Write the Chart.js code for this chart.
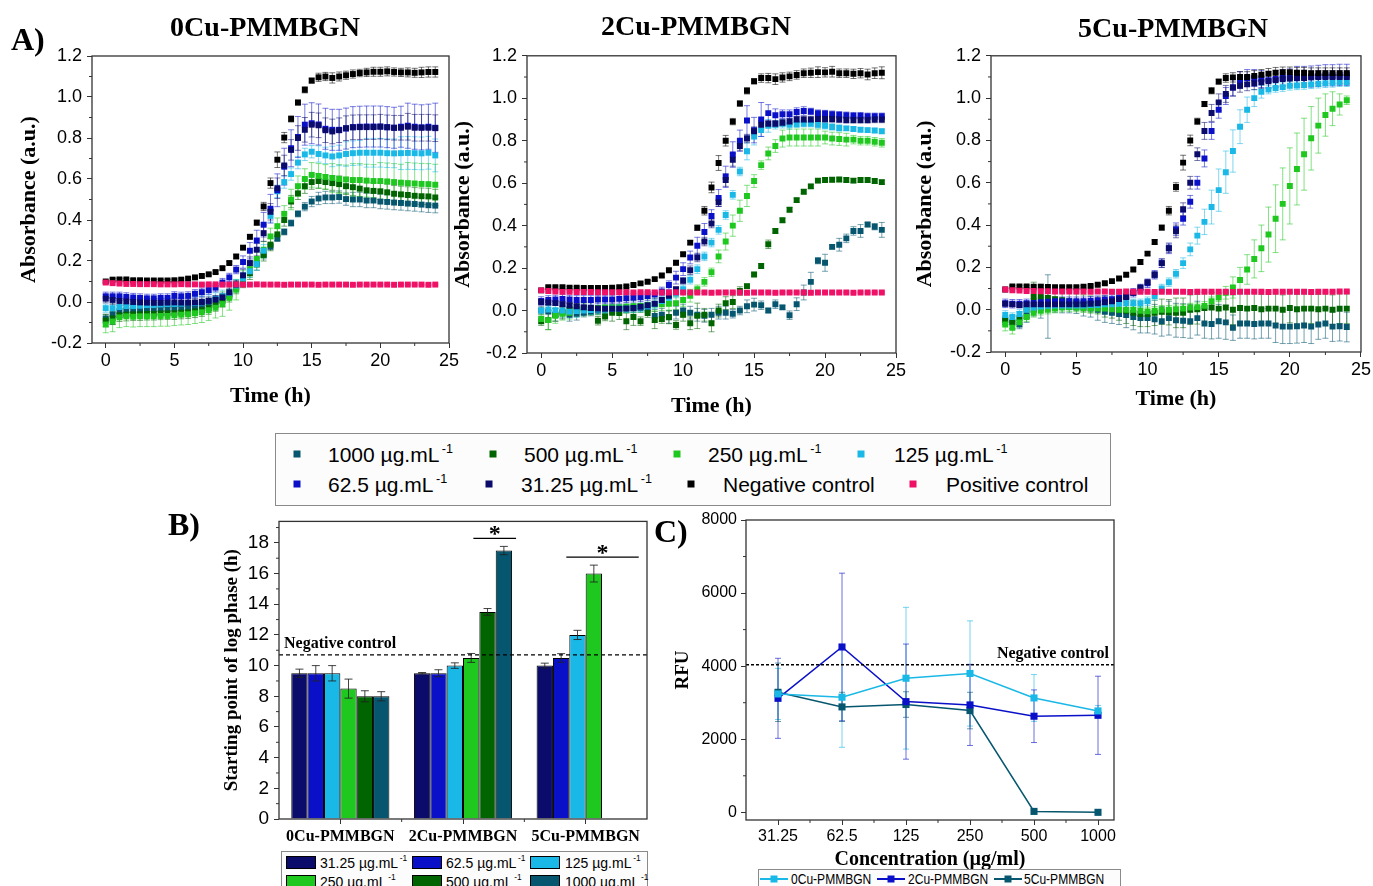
<!DOCTYPE html>
<html>
<head>
<meta charset="utf-8">
<script src="https://cdn.jsdelivr.net/npm/chart.js@4.4.1/dist/chart.umd.min.js"></script>
<style>
  body { margin: 0; background: #fff; width: 1373px; height: 886px; overflow: hidden; position: relative;
         font-family: 'Liberation Sans', Arial, sans-serif; }
  canvas { position: absolute; }
  .lbl { position: absolute; font-family: 'Liberation Serif', 'Times New Roman', serif; font-weight: bold;
         line-height: 1; white-space: nowrap; color: #000; }
  .box { position: absolute; border: 1px solid #8a8a8a; background: #fcfcfc; }
  .item { position: absolute; white-space: nowrap; transform: translateY(-50%); line-height: 1; color: #000; }
  .item sup { font-size: 0.6em; vertical-align: 0.75em; }
  .mk { position: absolute; transform: translate(-50%, -50%); }
</style>
</head>
<body>
<script>
// ---- time axis of panel A (h) ----
const hours = [0,0.5,1,1.5,2,2.5,3,3.5,4,4.5,5,5.5,6,6.5,7,7.5,8,8.5,9,9.5,10,10.5,11,11.5,12,12.5,
  13,13.5,14,14.5,15,15.5,16,16.5,17,17.5,18,18.5,19,19.5,20,20.5,21,21.5,22,22.5,23,23.5,24];

// ---- A) 0Cu-PMMBGN absorbance ----
const cu0_1000 = [-0.080,-0.060,-0.045,-0.040,-0.040,-0.040,-0.038,-0.035,-0.035,-0.035,
  -0.032,-0.030,-0.028,-0.022,-0.015,-0.005,0.010,0.020,0.040,0.075,
  0.105,0.150,0.190,0.230,0.270,0.310,0.342,0.385,0.430,0.465,
  0.490,0.505,0.510,0.510,0.512,0.502,0.500,0.500,0.495,0.495,
  0.490,0.488,0.485,0.483,0.480,0.478,0.475,0.472,0.470];
const cu0_1000_sd = [0.02,0.05,0.03,0.025,0.025,0.025,0.025,0.025,0.025,0.025,
  0.025,0.025,0.025,0.025,0.025,0.025,0.02,0.02,0.02,0.02,
  0.02,0.02,0.02,0.02,0.015,0.015,0.015,0.015,0.015,0.02,
  0.025,0.03,0.03,0.03,0.03,0.03,0.035,0.035,0.035,0.035,
  0.035,0.035,0.035,0.035,0.035,0.035,0.035,0.035,0.035];
const cu0_500 = [-0.090,-0.080,-0.065,-0.062,-0.060,-0.060,-0.058,-0.058,-0.056,-0.055,
  -0.055,-0.052,-0.050,-0.046,-0.040,-0.030,-0.015,0.005,0.030,0.070,
  0.100,0.140,0.185,0.230,0.280,0.330,0.400,0.490,0.530,0.565,
  0.585,0.590,0.585,0.580,0.575,0.565,0.560,0.553,0.545,0.542,
  0.540,0.535,0.528,0.525,0.522,0.518,0.516,0.515,0.510];
const cu0_500_sd = [0.03,0.03,0.03,0.03,0.03,0.03,0.03,0.03,0.03,0.03,
  0.03,0.03,0.03,0.03,0.03,0.03,0.03,0.03,0.03,0.03,
  0.03,0.03,0.03,0.03,0.03,0.03,0.03,0.03,0.03,0.035,
  0.035,0.035,0.035,0.035,0.04,0.04,0.04,0.04,0.04,0.04,
  0.04,0.04,0.04,0.04,0.04,0.04,0.04,0.04,0.04];
const cu0_250 = [-0.110,-0.095,-0.075,-0.070,-0.072,-0.070,-0.070,-0.070,-0.068,-0.068,
  -0.065,-0.062,-0.060,-0.055,-0.050,-0.040,-0.028,-0.010,0.020,0.060,
  0.115,0.160,0.210,0.255,0.320,0.370,0.430,0.500,0.565,0.600,
  0.620,0.615,0.610,0.605,0.600,0.598,0.595,0.595,0.592,0.590,
  0.590,0.588,0.585,0.582,0.580,0.578,0.576,0.575,0.572];
const cu0_250_sd = [0.04,0.05,0.05,0.05,0.05,0.05,0.05,0.05,0.05,0.05,
  0.05,0.05,0.05,0.05,0.05,0.05,0.05,0.06,0.06,0.05,
  0.04,0.04,0.04,0.04,0.04,0.04,0.04,0.05,0.05,0.05,
  0.06,0.06,0.06,0.07,0.07,0.07,0.08,0.08,0.08,0.08,
  0.09,0.09,0.09,0.09,0.10,0.10,0.10,0.10,0.10];
const cu0_125 = [-0.030,-0.030,-0.025,-0.020,-0.020,-0.018,-0.015,-0.015,-0.012,-0.010,
  -0.010,-0.008,-0.005,-0.005,-0.002,0.005,0.015,0.028,0.045,0.080,
  0.115,0.150,0.185,0.250,0.420,0.540,0.585,0.624,0.680,0.720,
  0.733,0.722,0.715,0.710,0.715,0.722,0.726,0.728,0.728,0.728,
  0.728,0.726,0.725,0.726,0.727,0.726,0.725,0.728,0.715];
const cu0_125_sd = [0.02,0.05,0.03,0.03,0.03,0.03,0.03,0.03,0.03,0.03,
  0.03,0.03,0.03,0.03,0.03,0.03,0.03,0.03,0.03,0.03,
  0.03,0.03,0.03,0.03,0.03,0.03,0.03,0.03,0.03,0.03,
  0.03,0.04,0.04,0.05,0.05,0.06,0.06,0.06,0.07,0.07,
  0.07,0.07,0.07,0.08,0.08,0.08,0.08,0.08,0.08];
const cu0_62 = [0.028,0.028,0.028,0.025,0.022,0.020,0.018,0.018,0.020,0.020,
  0.030,0.028,0.030,0.040,0.048,0.058,0.070,0.095,0.120,0.158,
  0.195,0.250,0.300,0.377,0.455,0.545,0.660,0.750,0.805,0.865,
  0.872,0.866,0.845,0.840,0.840,0.846,0.853,0.855,0.856,0.856,
  0.856,0.853,0.850,0.855,0.860,0.855,0.852,0.855,0.850];
const cu0_62_sd = [0.02,0.02,0.02,0.02,0.02,0.02,0.02,0.02,0.02,0.02,
  0.02,0.02,0.02,0.02,0.02,0.02,0.02,0.02,0.02,0.02,
  0.03,0.04,0.05,0.06,0.07,0.08,0.09,0.09,0.10,0.10,
  0.10,0.10,0.10,0.10,0.10,0.10,0.10,0.10,0.10,0.10,
  0.10,0.10,0.10,0.10,0.11,0.11,0.11,0.11,0.12];
const cu0_31 = [0.016,0.010,0.005,0.003,0.000,-0.002,-0.003,-0.004,-0.004,-0.003,
  -0.002,-0.003,-0.004,-0.002,0.000,0.005,0.012,0.023,0.047,0.085,
  0.130,0.190,0.255,0.336,0.440,0.555,0.666,0.742,0.800,0.840,
  0.865,0.862,0.838,0.832,0.838,0.848,0.852,0.853,0.853,0.853,
  0.855,0.852,0.850,0.850,0.855,0.850,0.850,0.850,0.848];
const cu0_31_sd = [0.02,0.02,0.02,0.02,0.02,0.02,0.02,0.02,0.02,0.02,
  0.02,0.02,0.02,0.02,0.02,0.02,0.02,0.02,0.02,0.02,
  0.03,0.03,0.03,0.04,0.04,0.05,0.05,0.05,0.06,0.06,
  0.06,0.06,0.06,0.06,0.06,0.06,0.06,0.06,0.06,0.06,
  0.06,0.06,0.06,0.06,0.065,0.065,0.065,0.065,0.065];
const cu0_neg = [0.100,0.109,0.110,0.110,0.106,0.106,0.105,0.105,0.105,0.105,
  0.106,0.109,0.114,0.120,0.127,0.135,0.146,0.165,0.190,0.222,
  0.265,0.318,0.387,0.466,0.580,0.694,0.802,0.893,0.973,1.035,
  1.080,1.096,1.100,1.093,1.100,1.106,1.112,1.117,1.120,1.123,
  1.123,1.125,1.122,1.120,1.120,1.118,1.120,1.122,1.122];
const cu0_neg_sd = [0.005,0.005,0.005,0.005,0.005,0.005,0.005,0.005,0.005,0.005,
  0.005,0.005,0.005,0.005,0.006,0.006,0.007,0.008,0.008,0.010,
  0.008,0.010,0.012,0.020,0.025,0.038,0.025,0.015,0.012,0.015,
  0.012,0.020,0.020,0.025,0.022,0.020,0.020,0.018,0.020,0.022,
  0.022,0.022,0.020,0.020,0.022,0.022,0.025,0.025,0.025];
const cu0_pos = [0.095,0.092,0.090,0.088,0.088,0.087,0.087,0.087,0.086,0.086,
  0.086,0.087,0.086,0.086,0.085,0.086,0.086,0.085,0.085,0.086,
  0.085,0.085,0.086,0.085,0.085,0.085,0.084,0.085,0.085,0.085,
  0.085,0.084,0.085,0.085,0.085,0.085,0.084,0.085,0.085,0.085,
  0.085,0.085,0.084,0.085,0.085,0.085,0.085,0.084,0.085];
const cu0_pos_sd = [0.004,0.004,0.003,0.003,0.003,0.003,0.003,0.003,0.003,0.003,
  0.003,0.003,0.003,0.003,0.003,0.003,0.003,0.003,0.003,0.003,
  0.003,0.003,0.003,0.003,0.003,0.003,0.003,0.003,0.003,0.003,
  0.003,0.003,0.003,0.003,0.003,0.003,0.003,0.003,0.003,0.003,
  0.003,0.003,0.003,0.003,0.003,0.003,0.003,0.003,0.003];

// ---- A) 2Cu-PMMBGN absorbance ----
const cu2_1000 = [0.000,-0.005,-0.020,-0.010,-0.020,-0.015,-0.010,-0.005,0.000,0.005,
  0.005,0.008,0.010,0.010,0.012,0.010,-0.025,-0.020,-0.030,-0.010,
  0.000,-0.010,-0.020,-0.025,-0.020,-0.010,-0.010,-0.015,0.000,0.020,
  0.028,0.025,0.000,0.030,0.015,-0.022,0.030,0.085,0.135,0.235,
  0.225,0.300,0.310,0.340,0.375,0.375,0.405,0.395,0.380];
const cu2_1000_sd = [0.02,0.03,0.03,0.03,0.03,0.03,0.02,0.02,0.02,0.02,
  0.02,0.02,0.02,0.02,0.02,0.02,0.03,0.03,0.03,0.03,
  0.03,0.03,0.03,0.03,0.03,0.03,0.03,0.02,0.02,0.03,
  0.03,0.02,0.01,0.02,0.01,0.02,0.03,0.035,0.045,0.015,
  0.04,0.01,0.03,0.02,0.02,0.03,0.01,0.015,0.035];
const cu2_500 = [-0.050,-0.045,-0.020,-0.005,0.005,0.010,0.012,0.010,-0.048,-0.028,
  -0.010,-0.012,-0.050,-0.030,-0.050,-0.012,-0.045,-0.040,-0.032,-0.068,
  -0.020,-0.060,-0.025,-0.020,-0.060,0.000,0.035,0.040,0.092,0.115,
  0.170,0.210,0.312,0.375,0.425,0.475,0.520,0.560,0.585,0.612,
  0.615,0.616,0.617,0.615,0.612,0.615,0.615,0.610,0.605];
const cu2_500_sd = [0.02,0.045,0.03,0.03,0.03,0.03,0.03,0.03,0.02,0.02,
  0.04,0.03,0.04,0.04,0.02,0.02,0.04,0.02,0.03,0.02,
  0.03,0.03,0.06,0.03,0.04,0.03,0.03,0.03,0.02,0.01,
  0.01,0.01,0.02,0.01,0.01,0.01,0.01,0.01,0.01,0.01,
  0.01,0.01,0.01,0.01,0.01,0.01,0.01,0.01,0.01];
const cu2_250 = [-0.040,-0.045,-0.025,-0.015,-0.010,0.000,0.005,0.010,0.012,0.015,
  0.015,0.015,0.018,0.020,0.022,0.025,0.028,0.030,0.032,0.035,
  0.050,0.070,0.100,0.135,0.180,0.255,0.325,0.400,0.470,0.540,
  0.610,0.685,0.740,0.775,0.810,0.815,0.815,0.815,0.815,0.815,
  0.815,0.810,0.808,0.805,0.805,0.800,0.800,0.795,0.790];
const cu2_250_sd = [0.02,0.045,0.035,0.03,0.03,0.03,0.03,0.03,0.03,0.03,
  0.03,0.03,0.03,0.03,0.03,0.03,0.03,0.03,0.03,0.03,
  0.03,0.03,0.02,0.02,0.02,0.03,0.04,0.05,0.05,0.05,
  0.03,0.02,0.03,0.03,0.04,0.04,0.04,0.04,0.04,0.04,
  0.03,0.03,0.03,0.03,0.02,0.02,0.02,0.02,0.02];
const cu2_125 = [0.000,0.005,0.002,0.000,-0.005,-0.002,0.000,0.002,0.005,0.005,
  0.008,0.008,0.010,0.012,0.015,0.020,0.030,0.045,0.060,0.080,
  0.100,0.145,0.195,0.255,0.320,0.380,0.450,0.545,0.655,0.750,
  0.820,0.850,0.870,0.875,0.880,0.875,0.878,0.880,0.880,0.875,
  0.870,0.865,0.860,0.858,0.855,0.852,0.850,0.848,0.845];
const cu2_125_sd = [0.01,0.02,0.03,0.03,0.03,0.03,0.02,0.02,0.02,0.02,
  0.02,0.02,0.02,0.02,0.02,0.02,0.02,0.02,0.02,0.02,
  0.02,0.02,0.02,0.02,0.02,0.02,0.02,0.02,0.02,0.04,
  0.04,0.03,0.03,0.02,0.02,0.02,0.015,0.015,0.015,0.015,
  0.015,0.015,0.015,0.01,0.01,0.01,0.01,0.01,0.01];
const cu2_62 = [0.045,0.050,0.052,0.055,0.052,0.050,0.050,0.050,0.052,0.052,
  0.052,0.055,0.058,0.060,0.062,0.068,0.075,0.090,0.120,0.155,
  0.195,0.250,0.305,0.370,0.445,0.530,0.630,0.735,0.800,0.895,
  0.850,0.900,0.930,0.920,0.925,0.925,0.935,0.940,0.938,0.930,
  0.928,0.925,0.922,0.920,0.918,0.918,0.915,0.915,0.915];
const cu2_62_sd = [0.02,0.02,0.02,0.02,0.02,0.02,0.02,0.02,0.02,0.02,
  0.02,0.02,0.02,0.02,0.02,0.02,0.02,0.02,0.02,0.03,
  0.03,0.03,0.04,0.04,0.03,0.04,0.05,0.06,0.05,0.07,
  0.06,0.08,0.04,0.03,0.02,0.02,0.02,0.02,0.015,0.015,
  0.015,0.015,0.015,0.015,0.015,0.015,0.015,0.015,0.015];
const cu2_31 = [0.040,0.038,0.035,0.030,0.025,0.020,0.015,0.012,0.010,0.008,
  0.008,0.008,0.010,0.012,0.018,0.025,0.032,0.050,0.070,0.100,
  0.140,0.190,0.250,0.325,0.410,0.510,0.615,0.710,0.775,0.810,
  0.845,0.875,0.880,0.880,0.885,0.890,0.900,0.900,0.900,0.902,
  0.902,0.902,0.900,0.898,0.898,0.898,0.898,0.900,0.900];
const cu2_31_sd = [0.01,0.01,0.01,0.01,0.01,0.01,0.01,0.01,0.01,0.01,
  0.01,0.01,0.01,0.01,0.01,0.01,0.01,0.01,0.01,0.01,
  0.015,0.02,0.02,0.02,0.02,0.02,0.03,0.03,0.02,0.02,
  0.02,0.02,0.015,0.015,0.015,0.015,0.015,0.015,0.015,0.015,
  0.015,0.015,0.015,0.015,0.015,0.015,0.015,0.015,0.015];
const cu2_neg = [0.095,0.110,0.110,0.110,0.108,0.107,0.106,0.106,0.106,0.106,
  0.107,0.110,0.113,0.120,0.128,0.136,0.148,0.165,0.190,0.225,
  0.265,0.320,0.390,0.470,0.580,0.695,0.800,0.890,0.975,1.035,
  1.080,1.095,1.095,1.090,1.098,1.103,1.110,1.118,1.120,1.123,
  1.122,1.125,1.118,1.118,1.115,1.118,1.112,1.118,1.120];
const cu2_neg_sd = [0.005,0.005,0.005,0.005,0.005,0.005,0.005,0.005,0.005,0.005,
  0.005,0.005,0.005,0.005,0.006,0.006,0.007,0.008,0.008,0.010,
  0.008,0.010,0.012,0.020,0.025,0.035,0.025,0.015,0.012,0.015,
  0.012,0.020,0.022,0.025,0.022,0.020,0.020,0.020,0.022,0.025,
  0.022,0.025,0.020,0.020,0.022,0.022,0.025,0.025,0.028];
const cu2_pos = [0.095,0.092,0.090,0.088,0.088,0.087,0.087,0.087,0.086,0.086,
  0.086,0.086,0.086,0.085,0.086,0.086,0.085,0.085,0.085,0.086,
  0.085,0.085,0.085,0.085,0.084,0.085,0.085,0.085,0.085,0.084,
  0.085,0.085,0.085,0.084,0.085,0.085,0.085,0.085,0.084,0.085,
  0.085,0.085,0.085,0.085,0.084,0.085,0.085,0.085,0.085];
const cu2_pos_sd = [0.004,0.004,0.003,0.003,0.003,0.003,0.003,0.003,0.003,0.003,
  0.003,0.003,0.003,0.003,0.003,0.003,0.003,0.003,0.003,0.003,
  0.003,0.003,0.003,0.003,0.003,0.003,0.003,0.003,0.003,0.003,
  0.003,0.003,0.003,0.003,0.003,0.003,0.003,0.003,0.003,0.003,
  0.003,0.003,0.003,0.003,0.003,0.003,0.003,0.003,0.003];

// ---- A) 5Cu-PMMBGN absorbance ----
const cu5_1000 = [-0.050,-0.060,-0.070,-0.030,0.000,0.010,0.015,0.018,0.015,0.015,
  0.012,0.010,0.005,0.000,-0.010,-0.015,-0.020,-0.025,-0.035,-0.040,
  -0.040,-0.045,-0.055,-0.040,-0.050,-0.052,-0.055,-0.040,-0.065,-0.068,
  -0.055,-0.060,-0.085,-0.065,-0.065,-0.068,-0.065,-0.065,-0.075,-0.080,
  -0.080,-0.078,-0.075,-0.080,-0.070,-0.065,-0.080,-0.078,-0.082];
const cu5_1000_sd = [0.02,0.03,0.02,0.03,0.03,0.05,0.15,0.03,0.03,0.03,
  0.03,0.04,0.04,0.05,0.05,0.05,0.05,0.06,0.06,0.07,
  0.07,0.07,0.07,0.08,0.08,0.08,0.08,0.08,0.07,0.07,
  0.08,0.08,0.06,0.07,0.07,0.07,0.07,0.07,0.08,0.08,
  0.08,0.08,0.08,0.08,0.07,0.07,0.07,0.07,0.07];
const cu5_500 = [-0.050,-0.060,-0.040,0.000,0.060,0.060,0.055,0.050,0.045,0.040,
  0.035,0.030,0.025,0.020,0.015,0.010,0.000,-0.005,-0.015,-0.020,
  -0.020,-0.015,-0.010,-0.012,-0.015,-0.015,0.000,0.002,0.008,0.010,
  0.005,0.010,0.000,0.008,0.005,0.008,0.002,0.005,0.005,0.000,
  0.008,0.002,0.005,0.005,0.002,0.005,0.000,0.005,0.005];
const cu5_500_sd = [0.02,0.03,0.03,0.04,0.07,0.06,0.06,0.05,0.04,0.04,
  0.04,0.04,0.04,0.04,0.05,0.05,0.05,0.06,0.06,0.06,
  0.06,0.06,0.06,0.06,0.07,0.07,0.07,0.07,0.07,0.07,
  0.07,0.07,0.07,0.07,0.07,0.07,0.07,0.07,0.07,0.07,
  0.07,0.07,0.07,0.07,0.07,0.07,0.07,0.07,0.07];
const cu5_250 = [-0.070,-0.085,-0.060,-0.035,-0.015,-0.005,0.000,0.005,0.010,0.012,
  0.010,0.008,0.005,0.005,0.005,0.002,0.000,0.000,0.000,-0.005,
  -0.008,-0.005,0.000,0.000,0.002,0.005,0.010,0.012,0.018,0.040,
  0.058,0.080,0.105,0.140,0.190,0.240,0.290,0.355,0.430,0.500,
  0.585,0.665,0.735,0.810,0.870,0.920,0.950,0.970,0.990];
const cu5_250_sd = [0.03,0.03,0.02,0.02,0.02,0.02,0.02,0.02,0.02,0.02,
  0.02,0.02,0.02,0.02,0.02,0.02,0.02,0.02,0.02,0.02,
  0.02,0.02,0.02,0.02,0.02,0.02,0.02,0.02,0.02,0.02,
  0.02,0.03,0.05,0.06,0.07,0.09,0.11,0.13,0.16,0.17,
  0.18,0.17,0.17,0.15,0.13,0.10,0.08,0.05,0.02];
const cu5_125 = [-0.025,-0.035,-0.020,0.000,0.010,0.015,0.018,0.020,0.020,0.020,
  0.020,0.020,0.022,0.022,0.025,0.025,0.028,0.030,0.030,0.030,
  0.040,0.065,0.100,0.130,0.170,0.220,0.285,0.350,0.415,0.485,
  0.565,0.650,0.750,0.865,0.945,1.000,1.030,1.040,1.048,1.052,
  1.058,1.060,1.062,1.065,1.068,1.070,1.072,1.075,1.075];
const cu5_125_sd = [0.02,0.02,0.02,0.02,0.02,0.02,0.02,0.02,0.02,0.02,
  0.02,0.02,0.02,0.02,0.02,0.02,0.02,0.02,0.02,0.02,
  0.02,0.02,0.02,0.02,0.02,0.025,0.03,0.04,0.06,0.08,
  0.10,0.10,0.10,0.08,0.06,0.04,0.03,0.02,0.02,0.02,
  0.02,0.02,0.02,0.02,0.02,0.02,0.02,0.02,0.02];
const cu5_62 = [0.030,0.028,0.028,0.030,0.032,0.035,0.038,0.040,0.040,0.040,
  0.040,0.040,0.042,0.045,0.048,0.050,0.058,0.065,0.080,0.100,
  0.125,0.165,0.220,0.290,0.380,0.430,0.510,0.600,0.715,0.845,
  0.945,1.010,1.050,1.085,1.095,1.095,1.090,1.085,1.090,1.095,
  1.098,1.100,1.100,1.102,1.105,1.108,1.108,1.110,1.110];
const cu5_62_sd = [0.02,0.02,0.02,0.02,0.02,0.02,0.02,0.02,0.02,0.02,
  0.02,0.02,0.02,0.02,0.02,0.02,0.02,0.02,0.02,0.02,
  0.02,0.02,0.02,0.025,0.03,0.03,0.03,0.03,0.04,0.04,
  0.04,0.04,0.04,0.04,0.04,0.04,0.04,0.04,0.04,0.04,
  0.04,0.05,0.05,0.05,0.05,0.05,0.05,0.05,0.05];
const cu5_31 = [0.028,0.025,0.022,0.025,0.025,0.025,0.025,0.025,0.025,0.025,
  0.025,0.025,0.028,0.030,0.035,0.040,0.050,0.060,0.080,0.105,
  0.130,0.165,0.220,0.290,0.370,0.475,0.600,0.735,0.845,0.930,
  0.980,1.020,1.050,1.058,1.065,1.070,1.075,1.080,1.085,1.090,
  1.092,1.095,1.095,1.098,1.100,1.100,1.100,1.100,1.100];
const cu5_31_sd = [0.01,0.01,0.01,0.01,0.01,0.01,0.01,0.01,0.01,0.01,
  0.01,0.01,0.01,0.01,0.01,0.01,0.01,0.01,0.01,0.01,
  0.01,0.015,0.02,0.02,0.03,0.03,0.03,0.03,0.04,0.04,
  0.04,0.04,0.04,0.03,0.03,0.03,0.03,0.03,0.03,0.03,
  0.03,0.03,0.03,0.03,0.03,0.03,0.03,0.03,0.03];
const cu5_neg = [0.095,0.110,0.110,0.110,0.108,0.108,0.107,0.106,0.106,0.106,
  0.106,0.108,0.112,0.118,0.125,0.135,0.147,0.165,0.190,0.225,
  0.265,0.320,0.388,0.468,0.580,0.695,0.800,0.890,0.972,1.035,
  1.078,1.095,1.098,1.100,1.100,1.105,1.110,1.115,1.120,1.122,
  1.122,1.120,1.120,1.118,1.118,1.118,1.118,1.118,1.118];
const cu5_neg_sd = [0.005,0.005,0.005,0.005,0.005,0.005,0.005,0.005,0.005,0.005,
  0.005,0.005,0.005,0.005,0.006,0.006,0.007,0.008,0.008,0.010,
  0.008,0.010,0.012,0.020,0.020,0.035,0.025,0.015,0.012,0.015,
  0.012,0.020,0.022,0.025,0.025,0.025,0.025,0.025,0.025,0.025,
  0.025,0.025,0.025,0.025,0.025,0.025,0.025,0.025,0.025];
const cu5_pos = [0.095,0.092,0.090,0.088,0.088,0.087,0.087,0.086,0.086,0.086,
  0.086,0.086,0.085,0.086,0.086,0.085,0.085,0.086,0.085,0.085,
  0.085,0.084,0.085,0.085,0.085,0.085,0.084,0.085,0.085,0.085,
  0.085,0.085,0.084,0.085,0.085,0.085,0.085,0.084,0.085,0.085,
  0.085,0.085,0.085,0.084,0.085,0.085,0.085,0.086,0.086];
const cu5_pos_sd = [0.004,0.004,0.003,0.003,0.003,0.003,0.003,0.003,0.003,0.003,
  0.003,0.003,0.003,0.003,0.003,0.003,0.003,0.003,0.003,0.003,
  0.003,0.003,0.003,0.003,0.003,0.003,0.003,0.003,0.003,0.003,
  0.003,0.003,0.003,0.003,0.003,0.003,0.003,0.003,0.003,0.003,
  0.003,0.003,0.003,0.003,0.003,0.003,0.003,0.003,0.003];

const xTicksA = [0, 5, 10, 15, 20, 25];
const xMinorA = [2.5, 7.5, 12.5, 17.5, 22.5];
const yTicksA = [-0.2, 0, 0.2, 0.4, 0.6, 0.8, 1.0, 1.2];
const yMinorA = [-0.1, 0.1, 0.3, 0.5, 0.7, 0.9, 1.1];

// ---- B) starting point of log phase (h) ----
const groupsB = ['0Cu-PMMBGN', '2Cu-PMMBGN', '5Cu-PMMBGN'];
const lag31 = [9.5, 9.5, 10.0];     const lag31_sd = [0.27, 0.05, 0.16];
const lag62 = [9.5, 9.5, 10.5];     const lag62_sd = [0.5, 0.23, 0.28];
const lag125 = [9.5, 10.0, 12.0];   const lag125_sd = [0.5, 0.18, 0.3];
const lag250 = [8.5, 10.5, 16.0];   const lag250_sd = [0.62, 0.29, 0.55];
const lag500 = [8.0, 13.5, null];   const lag500_sd = [0.36, 0.22, null];
const lag1000 = [8.0, 17.5, null];  const lag1000_sd = [0.3, 0.27, null];
const negControlLag = 10.7;
const yTicksB = [0, 2, 4, 6, 8, 10, 12, 14, 16, 18];
const yMinorB = [1, 3, 5, 7, 9, 11, 13, 15, 17, 19];

// ---- C) RFU ----
const concC = ['31.25', '62.5', '125', '250', '500', '1000'];
const rfu0 = [3240, 3150, 3670, 3800, 3130, 2775];   const rfu0_sd = [700, 1370, 1940, 1440, 640, 150];
const rfu2 = [3120, 4525, 3030, 2940, 2630, 2655];   const rfu2_sd = [1095, 2020, 1575, 1110, 720, 1070];
const rfu5 = [3285, 2885, 2950, 2785, 25, 0];        const rfu5_sd = [800, 400, 350, 500, 20, 10];
const negControlRFU = 4040;
const yTicksC = [0, 2000, 4000, 6000, 8000];
const yMinorC = [1000, 3000, 5000, 7000];

// ---- styles ----
const colors = { c1000: '#06566f', c500: '#006400', c250: '#1ec81e', c125: '#1ab8e6',
                 c62: '#0a10c8', c31: '#0b0b6b', neg: '#000000', pos: '#ee1166' };
const names = { c1000: '1000 µg.mL', c500: '500 µg.mL', c250: '250 µg.mL', c125: '125 µg.mL',
                c62: '62.5 µg.mL', c31: '31.25 µg.mL', neg: 'Negative control', pos: 'Positive control' };
const drawOrder = { pos: 0, neg: 1, c31: 2, c62: 3, c125: 4, c250: 5, c500: 6, c1000: 7 };
const serif = "'Liberation Serif', 'Times New Roman', serif";
const sans = "'Liberation Sans', Arial, sans-serif";
const axisColor = '#333';

Chart.defaults.font.family = sans;
Chart.defaults.color = '#000';
Chart.defaults.animation = false;

// ---- plugins ----
function drawErrorBars(chart, o) {
  const ctx = chart.ctx, ys = chart.scales.y;
  chart.data.datasets.forEach((ds, i) => {
    if (!ds.sd) return;
    const meta = chart.getDatasetMeta(i);
    ctx.save();
    ctx.strokeStyle = o.color || ds.borderColor;
    ctx.globalAlpha = o.alpha;
    ctx.lineWidth = o.lineWidth;
    meta.data.forEach((el, j) => {
      const raw = ds.data[j];
      const v = raw !== null && typeof raw === 'object' ? raw.y : raw;
      const d = ds.sd[j];
      if (v == null || d == null || !isFinite(el.x)) return;
      const y1 = ys.getPixelForValue(v - d), y2 = ys.getPixelForValue(v + d);
      ctx.beginPath();
      ctx.moveTo(el.x, y1); ctx.lineTo(el.x, y2);
      ctx.moveTo(el.x - o.cap, y1); ctx.lineTo(el.x + o.cap, y1);
      ctx.moveTo(el.x - o.cap, y2); ctx.lineTo(el.x + o.cap, y2);
      ctx.stroke();
    });
    ctx.restore();
  });
}
const errorBarPlugin = {
  id: 'errorBars',
  beforeDatasetsDraw(chart, args, o) { if (o.cap != null && !o.onTop) drawErrorBars(chart, o); },
  afterDatasetsDraw(chart, args, o) { if (o.cap != null && o.onTop) drawErrorBars(chart, o); }
};

const framePlugin = {
  id: 'frame',
  afterDraw(chart, args, o) {
    const { ctx, chartArea: a, scales } = chart;
    ctx.save();
    ctx.strokeStyle = axisColor;
    ctx.lineWidth = 1.3;
    ctx.strokeRect(a.left, a.top, a.right - a.left, a.bottom - a.top);
    ctx.lineWidth = 1;
    (o.minorX || []).forEach(v => {
      const x = scales.x.getPixelForValue(v);
      ctx.beginPath(); ctx.moveTo(x, a.bottom); ctx.lineTo(x, a.bottom + 3); ctx.stroke();
    });
    (o.minorY || []).forEach(v => {
      if (v > scales.y.max) return;
      const y = scales.y.getPixelForValue(v);
      ctx.beginPath(); ctx.moveTo(a.left, y); ctx.lineTo(a.left - 3, y); ctx.stroke();
    });
    ctx.restore();
  }
};

const refLinePlugin = {
  id: 'refLine',
  afterDatasetsDraw(chart, args, o) {
    if (o.value == null) return;
    const { ctx, chartArea: a } = chart;
    const y = chart.scales.y.getPixelForValue(o.value);
    ctx.save();
    ctx.setLineDash(o.dash);
    ctx.lineWidth = 1.4;
    ctx.strokeStyle = '#000';
    ctx.beginPath(); ctx.moveTo(a.left, y); ctx.lineTo(a.right, y); ctx.stroke();
    ctx.setLineDash([]);
    ctx.font = 'bold 16px ' + serif;
    ctx.fillStyle = '#000';
    ctx.textAlign = o.align;
    ctx.fillText(o.text, o.align === 'left' ? a.left + 5 : a.right - 5, y - 7);
    ctx.restore();
  }
};

const bracketPlugin = {
  id: 'brackets',
  afterDatasetsDraw(chart, args, o) {
    if (!o.list) return;
    const { ctx } = chart;
    const xs = chart.scales.x, ys = chart.scales.y;
    const w = chart.getDatasetMeta(0).data[0].width;
    ctx.save();
    ctx.strokeStyle = '#000';
    ctx.lineWidth = 1.2;
    ctx.fillStyle = '#000';
    ctx.font = 'bold 24px ' + serif;
    ctx.textAlign = 'center';
    o.list.forEach(b => {
      const c = xs.getPixelForValue(b.group);
      const n = chart.data.datasets.length;
      const x1 = c + (b.first - n / 2) * w - 6 + (b.first === 2 ? 3 : 0);
      const x2 = c + (b.last + 1 - n / 2) * w + 4;
      let top = 0;
      chart.data.datasets.forEach(ds => {
        const v = ds.data[b.group];
        if (v != null) top = Math.max(top, v + ds.sd[b.group]);
      });
      const y = ys.getPixelForValue(top) - 8;
      ctx.beginPath(); ctx.moveTo(x1, y); ctx.lineTo(x2, y); ctx.stroke();
      ctx.fillText('*', (x1 + x2) / 2, y + 3);
    });
    ctx.restore();
  }
};

Chart.register(errorBarPlugin, framePlugin, refLinePlugin, bracketPlugin);

function makeCanvas(left, top, width, height) {
  const c = document.createElement('canvas');
  c.width = width; c.height = height;
  c.style.left = left + 'px'; c.style.top = top + 'px';
  c.style.width = width + 'px'; c.style.height = height + 'px';
  document.body.appendChild(c);
  return c;
}

function addLabel(text, left, top, size, extra) {
  const d = document.createElement('div');
  d.className = 'lbl';
  d.textContent = text;
  d.style.left = left + 'px'; d.style.top = top + 'px'; d.style.fontSize = size + 'px';
  Object.assign(d.style, extra || {});
  document.body.appendChild(d);
}

function tickGrid() {
  return { drawOnChartArea: false, drawTicks: true, tickLength: 5, color: axisColor, lineWidth: 1 };
}

// ---- panel A ----
function absChart(box, g, series) {
  const cv = makeCanvas(box.left, box.top, box.width, box.height);
  return new Chart(cv, {
    type: 'scatter',
    data: {
      datasets: series.map(s => ({
        label: names[s.key],
        data: hours.map((h, i) => ({ x: h, y: s.values[i] })),
        sd: s.sd,
        backgroundColor: colors[s.key],
        borderColor: colors[s.key],
        borderWidth: 0,
        pointStyle: 'rect',
        pointRadius: 4.2,
        pointHoverRadius: 4.2,
        order: drawOrder[s.key]
      }))
    },
    options: {
      responsive: false,
      devicePixelRatio: 1,
      events: [],
      layout: { padding: { top: g.padTop, right: g.padRight, left: 0, bottom: 0 } },
      plugins: {
        legend: { display: false },
        tooltip: { enabled: false },
        errorBars: { cap: 3, alpha: 0.55, lineWidth: 1 },
        frame: { minorX: xMinorA, minorY: yMinorA }
      },
      scales: {
        x: {
          type: 'linear', min: -1, max: 25,
          afterBuildTicks: s => { s.ticks = xTicksA.map(v => ({ value: v })); },
          afterFit: s => { s.height = g.xh; },
          ticks: { font: { size: 18 }, padding: 2, maxRotation: 0, callback: v => String(v) },
          grid: tickGrid(),
          border: { display: false },
          title: { display: true, text: 'Time (h)', font: { family: serif, weight: 'bold', size: 22 },
                   padding: { top: 0, bottom: g.xTitlePad } }
        },
        y: {
          type: 'linear', min: -0.2, max: 1.2,
          afterBuildTicks: s => { s.ticks = yTicksA.map(v => ({ value: v })); },
          afterFit: s => { s.width = g.yw; },
          ticks: { font: { size: 18 }, padding: 5, callback: v => v.toFixed(1) },
          grid: tickGrid(),
          border: { display: false },
          title: { display: true, text: 'Absorbance (a.u.)', font: { family: serif, weight: 'bold', size: 22 },
                   padding: { top: g.yTitlePad, bottom: 0 } }
        }
      }
    }
  });
}

function panelSeries(p) {
  return [
    { key: 'c1000', values: p.c1000, sd: p.c1000_sd },
    { key: 'c500', values: p.c500, sd: p.c500_sd },
    { key: 'c250', values: p.c250, sd: p.c250_sd },
    { key: 'c125', values: p.c125, sd: p.c125_sd },
    { key: 'c62', values: p.c62, sd: p.c62_sd },
    { key: 'c31', values: p.c31, sd: p.c31_sd },
    { key: 'neg', values: p.neg, sd: p.neg_sd },
    { key: 'pos', values: p.pos, sd: p.pos_sd }
  ];
}

absChart({ left: 0, top: 40, width: 465, height: 380 },
  { padTop: 16, padRight: 16, yw: 92, xh: 77, yTitlePad: 16.5, xTitlePad: 10 },
  panelSeries({ c1000: cu0_1000, c1000_sd: cu0_1000_sd, c500: cu0_500, c500_sd: cu0_500_sd,
    c250: cu0_250, c250_sd: cu0_250_sd, c125: cu0_125, c125_sd: cu0_125_sd, c62: cu0_62, c62_sd: cu0_62_sd,
    c31: cu0_31, c31_sd: cu0_31_sd, neg: cu0_neg, neg_sd: cu0_neg_sd, pos: cu0_pos, pos_sd: cu0_pos_sd }));
absChart({ left: 440, top: 40, width: 470, height: 385 },
  { padTop: 13, padRight: 14, yw: 87, xh: 72, yTitlePad: 10, xTitlePad: 5 },
  panelSeries({ c1000: cu2_1000, c1000_sd: cu2_1000_sd, c500: cu2_500, c500_sd: cu2_500_sd,
    c250: cu2_250, c250_sd: cu2_250_sd, c125: cu2_125, c125_sd: cu2_125_sd, c62: cu2_62, c62_sd: cu2_62_sd,
    c31: cu2_31, c31_sd: cu2_31_sd, neg: cu2_neg, neg_sd: cu2_neg_sd, pos: cu2_pos, pos_sd: cu2_pos_sd }));
absChart({ left: 900, top: 40, width: 473, height: 380 },
  { padTop: 13, padRight: 12, yw: 91, xh: 68, yTitlePad: 12, xTitlePad: 7 },
  panelSeries({ c1000: cu5_1000, c1000_sd: cu5_1000_sd, c500: cu5_500, c500_sd: cu5_500_sd,
    c250: cu5_250, c250_sd: cu5_250_sd, c125: cu5_125, c125_sd: cu5_125_sd, c62: cu5_62, c62_sd: cu5_62_sd,
    c31: cu5_31, c31_sd: cu5_31_sd, neg: cu5_neg, neg_sd: cu5_neg_sd, pos: cu5_pos, pos_sd: cu5_pos_sd }));

addLabel('A)', 11, 23, 32);
addLabel('0Cu-PMMBGN', 65, 13, 28, { width: '400px', textAlign: 'center' });
addLabel('2Cu-PMMBGN', 496, 12, 28, { width: '400px', textAlign: 'center' });
addLabel('5Cu-PMMBGN', 973, 14, 28, { width: '400px', textAlign: 'center' });

// shared legend of panel A
(function () {
  const box = document.createElement('div');
  box.className = 'box';
  Object.assign(box.style, { left: '275px', top: '433px', width: '834px', height: '71px' });
  const rows = [
    [['c1000', 21, 52], ['c500', 217, 248], ['c250', 401, 432], ['c125', 585, 618]],
    [['c62', 21, 52], ['c31', 213, 245], ['neg', 415, 447], ['pos', 637, 670]]
  ];
  rows.forEach((row, r) => {
    const cy = r === 0 ? 20 : 50;
    row.forEach(([key, mx, tx]) => {
      const m = document.createElement('div');
      m.className = 'mk';
      Object.assign(m.style, { left: mx + 'px', top: cy + 'px', width: '7px', height: '7px', background: colors[key] });
      box.appendChild(m);
      const t = document.createElement('div');
      t.className = 'item';
      t.style.left = tx + 'px'; t.style.top = cy + 'px'; t.style.fontSize = '21px';
      t.innerHTML = names[key] + (key.startsWith('c') ? '<sup>&thinsp;-1</sup>' : '');
      box.appendChild(t);
    });
  });
  document.body.appendChild(box);
})();

// ---- panel B ----
const barSeries = [
  { key: 'c31', values: lag31, sd: lag31_sd },
  { key: 'c62', values: lag62, sd: lag62_sd },
  { key: 'c125', values: lag125, sd: lag125_sd },
  { key: 'c250', values: lag250, sd: lag250_sd },
  { key: 'c500', values: lag500, sd: lag500_sd },
  { key: 'c1000', values: lag1000, sd: lag1000_sd }
];
new Chart(makeCanvas(175, 505, 480, 345), {
  type: 'bar',
  data: {
    labels: groupsB,
    datasets: barSeries.map(s => ({
      label: names[s.key], data: s.values, sd: s.sd,
      backgroundColor: colors[s.key], borderColor: '#000', borderWidth: 1,
      categoryPercentage: 0.8, barPercentage: 1.0
    }))
  },
  options: {
    responsive: false,
    devicePixelRatio: 1,
    events: [],
    layout: { padding: { top: 14, right: 8, left: 0, bottom: 0 } },
    plugins: {
      legend: { display: false },
      tooltip: { enabled: false },
      errorBars: { cap: 4, alpha: 0.85, lineWidth: 1, color: '#222', onTop: true },
      frame: { minorX: [0.5, 1.5], minorY: yMinorB },
      refLine: { value: negControlLag, dash: [4, 3], text: 'Negative control', align: 'left' },
      brackets: { list: [{ group: 1, first: 4, last: 5 }, { group: 2, first: 2, last: 5 }] }
    },
    scales: {
      x: {
        type: 'category', offset: true,
        afterFit: s => { s.height = 31; },
        ticks: { font: { family: serif, weight: 'bold', size: 16 }, padding: 3, maxRotation: 0 },
        grid: Object.assign(tickGrid(), { offset: false }),
        border: { display: false }
      },
      y: {
        type: 'linear', min: 0, max: 19.4,
        afterBuildTicks: s => { s.ticks = yTicksB.map(v => ({ value: v })); },
        afterFit: s => { s.width = 104; },
        ticks: { font: { size: 19 }, padding: 5, callback: v => String(v) },
        grid: tickGrid(),
        border: { display: false },
        title: { display: true, text: 'Starting point of log phase (h)',
                 font: { family: serif, weight: 'bold', size: 19 }, padding: { top: 45.5, bottom: 0 } }
      }
    }
  }
});
addLabel('B)', 168, 508, 32);

(function () {
  const box = document.createElement('div');
  box.className = 'box';
  Object.assign(box.style, { left: '281px', top: '851px', width: '365px', height: '45px' });
  const pos = [[4, 38], [130, 164], [248, 283]];
  barSeries.forEach((s, i) => {
    const cy = i < 3 ? 10 : 29;
    const [sx, tx] = pos[i % 3];
    const sw = document.createElement('div');
    Object.assign(sw.style, { position: 'absolute', left: sx + 'px', top: (cy - 6) + 'px', width: '28px',
      height: '11px', background: colors[s.key], border: '1px solid #000' });
    box.appendChild(sw);
    const t = document.createElement('div');
    t.className = 'item';
    t.style.left = tx + 'px'; t.style.top = cy + 'px'; t.style.fontSize = '14px';
    t.innerHTML = names[s.key] + '<sup>&thinsp;-1</sup>';
    box.appendChild(t);
  });
  document.body.appendChild(box);
})();

// ---- panel C ----
const rfuSeries = [
  { name: '0Cu-PMMBGN', color: colors.c125, values: rfu0, sd: rfu0_sd },
  { name: '2Cu-PMMBGN', color: colors.c62, values: rfu2, sd: rfu2_sd },
  { name: '5Cu-PMMBGN', color: colors.c1000, values: rfu5, sd: rfu5_sd }
];
new Chart(makeCanvas(660, 505, 470, 370), {
  type: 'scatter',
  data: {
    datasets: rfuSeries.map(s => ({
      label: s.name,
      data: s.values.map((v, i) => ({ x: i, y: v })),
      sd: s.sd,
      showLine: true,
      borderColor: s.color, backgroundColor: s.color,
      borderWidth: 1.5,
      pointStyle: 'rect', pointRadius: 5, pointHoverRadius: 5, pointBorderWidth: 0
    }))
  },
  options: {
    responsive: false,
    devicePixelRatio: 1,
    events: [],
    layout: { padding: { top: 15, right: 16, left: 0, bottom: 0 } },
    plugins: {
      legend: { display: false },
      tooltip: { enabled: false },
      errorBars: { cap: 3, alpha: 0.6, lineWidth: 1 },
      frame: { minorX: [0.5, 1.5, 2.5, 3.5, 4.5], minorY: yMinorC },
      refLine: { value: negControlRFU, dash: [3, 2], text: 'Negative control', align: 'right' }
    },
    scales: {
      x: {
        type: 'linear', min: -0.5, max: 5.25,
        afterBuildTicks: s => { s.ticks = concC.map((c, i) => ({ value: i })); },
        afterFit: s => { s.height = 55; },
        ticks: { font: { size: 16 }, padding: 2, maxRotation: 0, callback: v => concC[v] },
        grid: tickGrid(),
        border: { display: false },
        title: { display: true, text: 'Concentration (µg/ml)', font: { family: serif, weight: 'bold', size: 20 },
                 padding: { top: 0, bottom: 3 } }
      },
      y: {
        type: 'linear', min: -210, max: 8000,
        afterBuildTicks: s => { s.ticks = yTicksC.map(v => ({ value: v })); },
        afterFit: s => { s.width = 86; },
        ticks: { font: { size: 16 }, padding: 4, callback: v => String(v) },
        grid: tickGrid(),
        border: { display: false },
        title: { display: true, text: 'RFU', font: { family: serif, weight: 'bold', size: 19 },
                 padding: { top: 11.5, bottom: 0 } }
      }
    }
  }
});
addLabel('C)', 654, 515, 32);

(function () {
  const box = document.createElement('div');
  box.className = 'box';
  Object.assign(box.style, { left: '758px', top: '869px', width: '361px', height: '30px' });
  const pos = [[1, 32], [118, 149], [235, 265]];
  rfuSeries.forEach((s, i) => {
    const [lx, tx] = pos[i];
    const ln = document.createElement('div');
    Object.assign(ln.style, { position: 'absolute', left: lx + 'px', top: '8px', width: '28px', height: '1.5px', background: s.color });
    box.appendChild(ln);
    const m = document.createElement('div');
    m.className = 'mk';
    Object.assign(m.style, { left: (lx + 14) + 'px', top: '9px', width: '7px', height: '7px', background: s.color });
    box.appendChild(m);
    const t = document.createElement('div');
    t.className = 'item';
    t.style.left = tx + 'px'; t.style.top = '9px'; t.style.fontSize = '14px';
    t.style.transform = 'translateY(-50%) scaleX(0.86)';
    t.style.transformOrigin = 'left center';
    t.textContent = s.name;
    box.appendChild(t);
  });
  document.body.appendChild(box);
})();
</script>
</body>
</html>
